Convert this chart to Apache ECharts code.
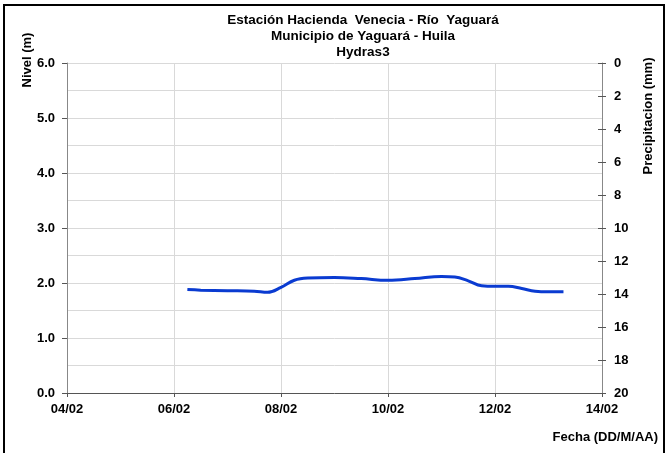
<!DOCTYPE html>
<html>
<head>
<meta charset="utf-8">
<script src="https://cdn.jsdelivr.net/npm/echarts@6/dist/echarts.min.js"></script>
<style>
  html, body { margin: 0; padding: 0; background: #fff; }
  #chart { width: 671px; height: 453px; }
</style>
</head>
<body>
<div id="chart"></div>
<script>
// dias contados desde 04/02 00:00
var dias = [2.25, 2.5, 3.0, 3.5, 3.75, 4.0, 4.25, 4.5, 5.0, 5.5, 6.0, 6.5, 7.0, 7.25, 7.5, 7.75, 8.0, 8.25, 8.5, 8.75, 9.0, 9.28];
var nivel = [1.88, 1.87, 1.86, 1.85, 1.83, 1.92, 2.05, 2.09, 2.10, 2.08, 2.05, 2.08, 2.12, 2.11, 2.04, 1.95, 1.94, 1.94, 1.90, 1.85, 1.84, 1.84];
var fechas = ['04/02', '06/02', '08/02', '10/02', '12/02', '14/02'];
var titulo = ['Estación Hacienda  Venecia - Río  Yaguará', 'Municipio de Yaguará - Huila', 'Hydras3'];

var fuente = '"Liberation Sans", Arial, sans-serif';
var datos = dias.map(function (d, i) { return [d, nivel[i]]; });

var chart = echarts.init(document.getElementById('chart'));
chart.setOption({
  animation: false,
  backgroundColor: '#fff',
  title: {
    text: titulo.join('\n'),
    left: 358,
    top: 7,
    textAlign: 'center',
    textStyle: { fontFamily: fuente, fontSize: 13.5, fontWeight: 'bold', color: '#000', lineHeight: 16 }
  },
  grid: { left: 67, right: 69, top: 63, bottom: 60 },
  xAxis: {
    type: 'value',
    min: 0, max: 10, interval: 2,
    axisLine: { lineStyle: { color: '#555', width: 1 } },
    axisTick: { show: true, length: 4, lineStyle: { color: '#555' } },
    axisLabel: {
      color: '#000', fontFamily: fuente, fontSize: 13, fontWeight: 'bold', margin: 10,
      formatter: function (v) { return fechas[Math.round(v / 2)]; }
    },
    splitLine: { show: true, lineStyle: { color: '#d9d9d9' } }
  },
  yAxis: [
    {
      type: 'value', position: 'left',
      min: 0, max: 6, interval: 1,
      axisLine: { show: true, lineStyle: { color: '#888' } },
      axisTick: { show: true, length: 5, lineStyle: { color: '#555' } },
      axisLabel: {
        color: '#000', fontFamily: fuente, fontSize: 13, fontWeight: 'bold', margin: 12,
        formatter: function (v) { return v.toFixed(1); }
      },
      splitLine: { show: true, lineStyle: { color: '#d9d9d9' } },
      minorTick: { show: false, splitNumber: 2 },
      minorSplitLine: { show: true, lineStyle: { color: '#d9d9d9' } }
    },
    {
      type: 'value', position: 'right', inverse: true,
      min: 0, max: 20, interval: 2,
      axisLine: { show: true, lineStyle: { color: '#888' } },
      axisTick: { show: true, length: 4, lineStyle: { color: '#555' } },
      axisLabel: { color: '#000', fontFamily: fuente, fontSize: 13, fontWeight: 'bold', margin: 12 },
      splitLine: { show: false }
    },
    {
      type: 'value', position: 'right', inverse: true,
      min: 0, max: 20, interval: 2,
      axisLine: { show: false },
      axisTick: { show: true, inside: true, length: 4, lineStyle: { color: '#555' } },
      axisLabel: { show: false },
      splitLine: { show: false }
    }
  ],
  series: [{
    type: 'line',
    yAxisIndex: 0,
    data: datos,
    smooth: 0.4,
    showSymbol: false,
    lineStyle: { color: '#0a3bd1', width: 3 }
  }],
  graphic: [
    {
      type: 'rect', silent: true, z: 100,
      shape: { x: 4, y: 5, width: 660, height: 460 },
      style: { fill: 'none', stroke: '#000', lineWidth: 2 }
    },
    {
      type: 'text', x: 27, y: 60, rotation: Math.PI / 2,
      style: { text: 'Nivel (m)', fill: '#000', font: 'bold 13px ' + fuente, align: 'center', verticalAlign: 'middle' }
    },
    {
      type: 'text', x: 648, y: 116, rotation: Math.PI / 2,
      style: { text: 'Precipitacion (mm)', fill: '#000', font: 'bold 13px ' + fuente, align: 'center', verticalAlign: 'middle' }
    },
    {
      type: 'text', x: 658, y: 437,
      style: { text: 'Fecha (DD/M/AA)', fill: '#000', font: 'bold 13px ' + fuente, align: 'right', verticalAlign: 'middle' }
    }
  ]
});
</script>
</body>
</html>
